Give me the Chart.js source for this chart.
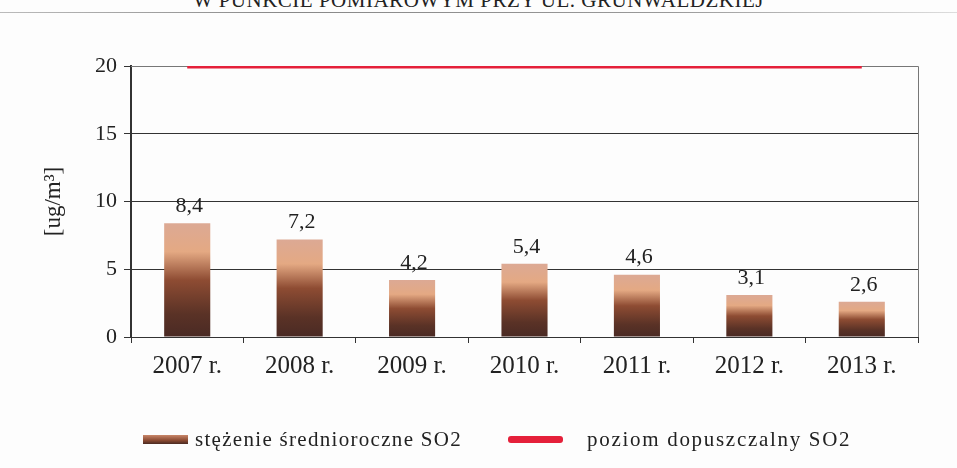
<!DOCTYPE html>
<html lang="pl">
<head>
    <meta charset="UTF-8">
    <title>Stężenie SO2</title>
    <script src="https://cdn.jsdelivr.net/npm/chart.js"></script>
    <style>
        body { margin: 0; background: #fdfdfd; font-family: 'Liberation Serif', serif; }
        .wrap { position: relative; width: 957px; height: 468px; overflow: hidden; }
        .title { position: absolute; top: -12px; left: 0; width: 957px; text-align: center; font-size: 21px; color: #222; letter-spacing: 0.5px; }
        .rule { position: absolute; top: 12px; left: 0; width: 957px; height: 1px; background: linear-gradient(to right, #bbb, #888 30%, #999 70%, #ddd); }
        canvas { position: absolute; left: 0; top: 0; }
        .legend { position: absolute; top: 427px; left: 143px; font-size: 21px; letter-spacing: 1.3px; color: #222; display: flex; align-items: center; }
        .sw-bar { width: 45px; height: 9px; margin-right: 7px; background: linear-gradient(to bottom, #c9876a, #8a4a32 60%, #4a2a22); }
        .sw-line { width: 55px; height: 7px; border-radius: 3px; background: #e5203a; margin-left: 46px; margin-right: 24px; }
        .second { letter-spacing: 1.7px; }
    </style>
</head>
<body>
    <div class="wrap">
        <div class="title">W PUNKCIE POMIAROWYM PRZY UL. GRUNWALDZKIEJ</div>
        <div class="rule"></div>
        <canvas id="so2Chart" width="957" height="468"></canvas>
        <div class="legend">
            <span class="sw-bar"></span><span>stężenie średnioroczne SO2</span>
            <span class="sw-line"></span><span class="second">poziom dopuszczalny SO2</span>
        </div>
    </div>

    <script>
        // dane
        const years = ['2007 r.', '2008 r.', '2009 r.', '2010 r.', '2011 r.', '2012 r.', '2013 r.'];
        const stezenie = [8.4, 7.2, 4.2, 5.4, 4.6, 3.1, 2.6];
        const dopuszczalny = [20, 20, 20, 20, 20, 20, 20];
        const yTicks = [0, 5, 10, 15, 20];

        const serif = "'Liberation Serif', serif";

        // etykiety nad słupkami
        const valueLabels = {
            id: 'valueLabels',
            afterDatasetsDraw(chart) {
                const ctx = chart.ctx;
                const meta = chart.getDatasetMeta(1);
                ctx.save();
                ctx.font = '22px ' + serif;
                ctx.fillStyle = '#222';
                ctx.textAlign = 'center';
                ctx.textBaseline = 'bottom';
                meta.data.forEach((bar, i) => {
                    ctx.fillText(String(stezenie[i]).replace('.', ','), bar.x + 2, bar.y - 6);
                });
                ctx.restore();
            }
        };

        // ramka obszaru wykresu
        const areaFrame = {
            id: 'areaFrame',
            beforeDatasetsDraw(chart) {
                const a = chart.chartArea;
                const ctx = chart.ctx;
                ctx.save();
                ctx.strokeStyle = '#777';
                ctx.lineWidth = 1;
                ctx.beginPath();
                ctx.moveTo(a.left, a.top + 0.5);
                ctx.lineTo(a.right + 0.5, a.top + 0.5);
                ctx.lineTo(a.right + 0.5, a.bottom);
                ctx.stroke();
                ctx.restore();
            }
        };

        function barGradient(context) {
            const chart = context.chart;
            if (!chart.chartArea || context.parsed === undefined) return '#8a4a32';
            const y = chart.scales.y;
            const top = y.getPixelForValue(context.parsed.y);
            const bottom = y.getPixelForValue(0);
            const g = chart.ctx.createLinearGradient(0, top, 0, bottom);
            g.addColorStop(0, '#dca994');
            g.addColorStop(0.25, '#e4a983');
            g.addColorStop(0.5, '#8e4c33');
            g.addColorStop(0.8, '#5a3226');
            g.addColorStop(1, '#4a2a24');
            return g;
        }

        new Chart(document.getElementById('so2Chart'), {
            data: {
                labels: years,
                datasets: [{
                    type: 'line',
                    label: 'poziom dopuszczalny SO2',
                    data: dopuszczalny,
                    borderColor: '#e5203a',
                    borderWidth: 5,
                    pointRadius: 0,
                    order: 0
                }, {
                    type: 'bar',
                    label: 'stężenie średnioroczne SO2',
                    data: stezenie,
                    backgroundColor: barGradient,
                    categoryPercentage: 1,
                    barPercentage: 0.41,
                    order: 1
                }]
            },
            options: {
                responsive: false,
                animation: false,
                layout: { padding: { top: 66, right: 39, bottom: 71, left: 0 } },
                plugins: {
                    legend: { display: false },
                    tooltip: { enabled: false }
                },
                scales: {
                    x: {
                        afterFit: s => { s.height = 60; },
                        grid: { drawOnChartArea: false, drawTicks: true, tickLength: 6, color: '#333' },
                        border: { color: '#333', width: 1 },
                        ticks: { font: { family: serif, size: 25 }, color: '#222', padding: 8 }
                    },
                    y: {
                        min: 0,
                        max: 20,
                        afterFit: s => { s.width = 131; },
                        afterBuildTicks: s => { s.ticks = yTicks.map(v => ({ value: v })); },
                        grid: { color: '#333', tickLength: 7 },
                        border: { color: '#333', width: 2 },
                        ticks: { font: { family: serif, size: 22 }, color: '#222', padding: 7 },
                        title: {
                            display: true,
                            text: '[ug/m³]',
                            font: { family: serif, size: 23 },
                            color: '#222',
                            padding: { top: 40, bottom: 0 }
                        }
                    }
                }
            },
            plugins: [valueLabels, areaFrame]
        });
    </script>
</body>
</html>
